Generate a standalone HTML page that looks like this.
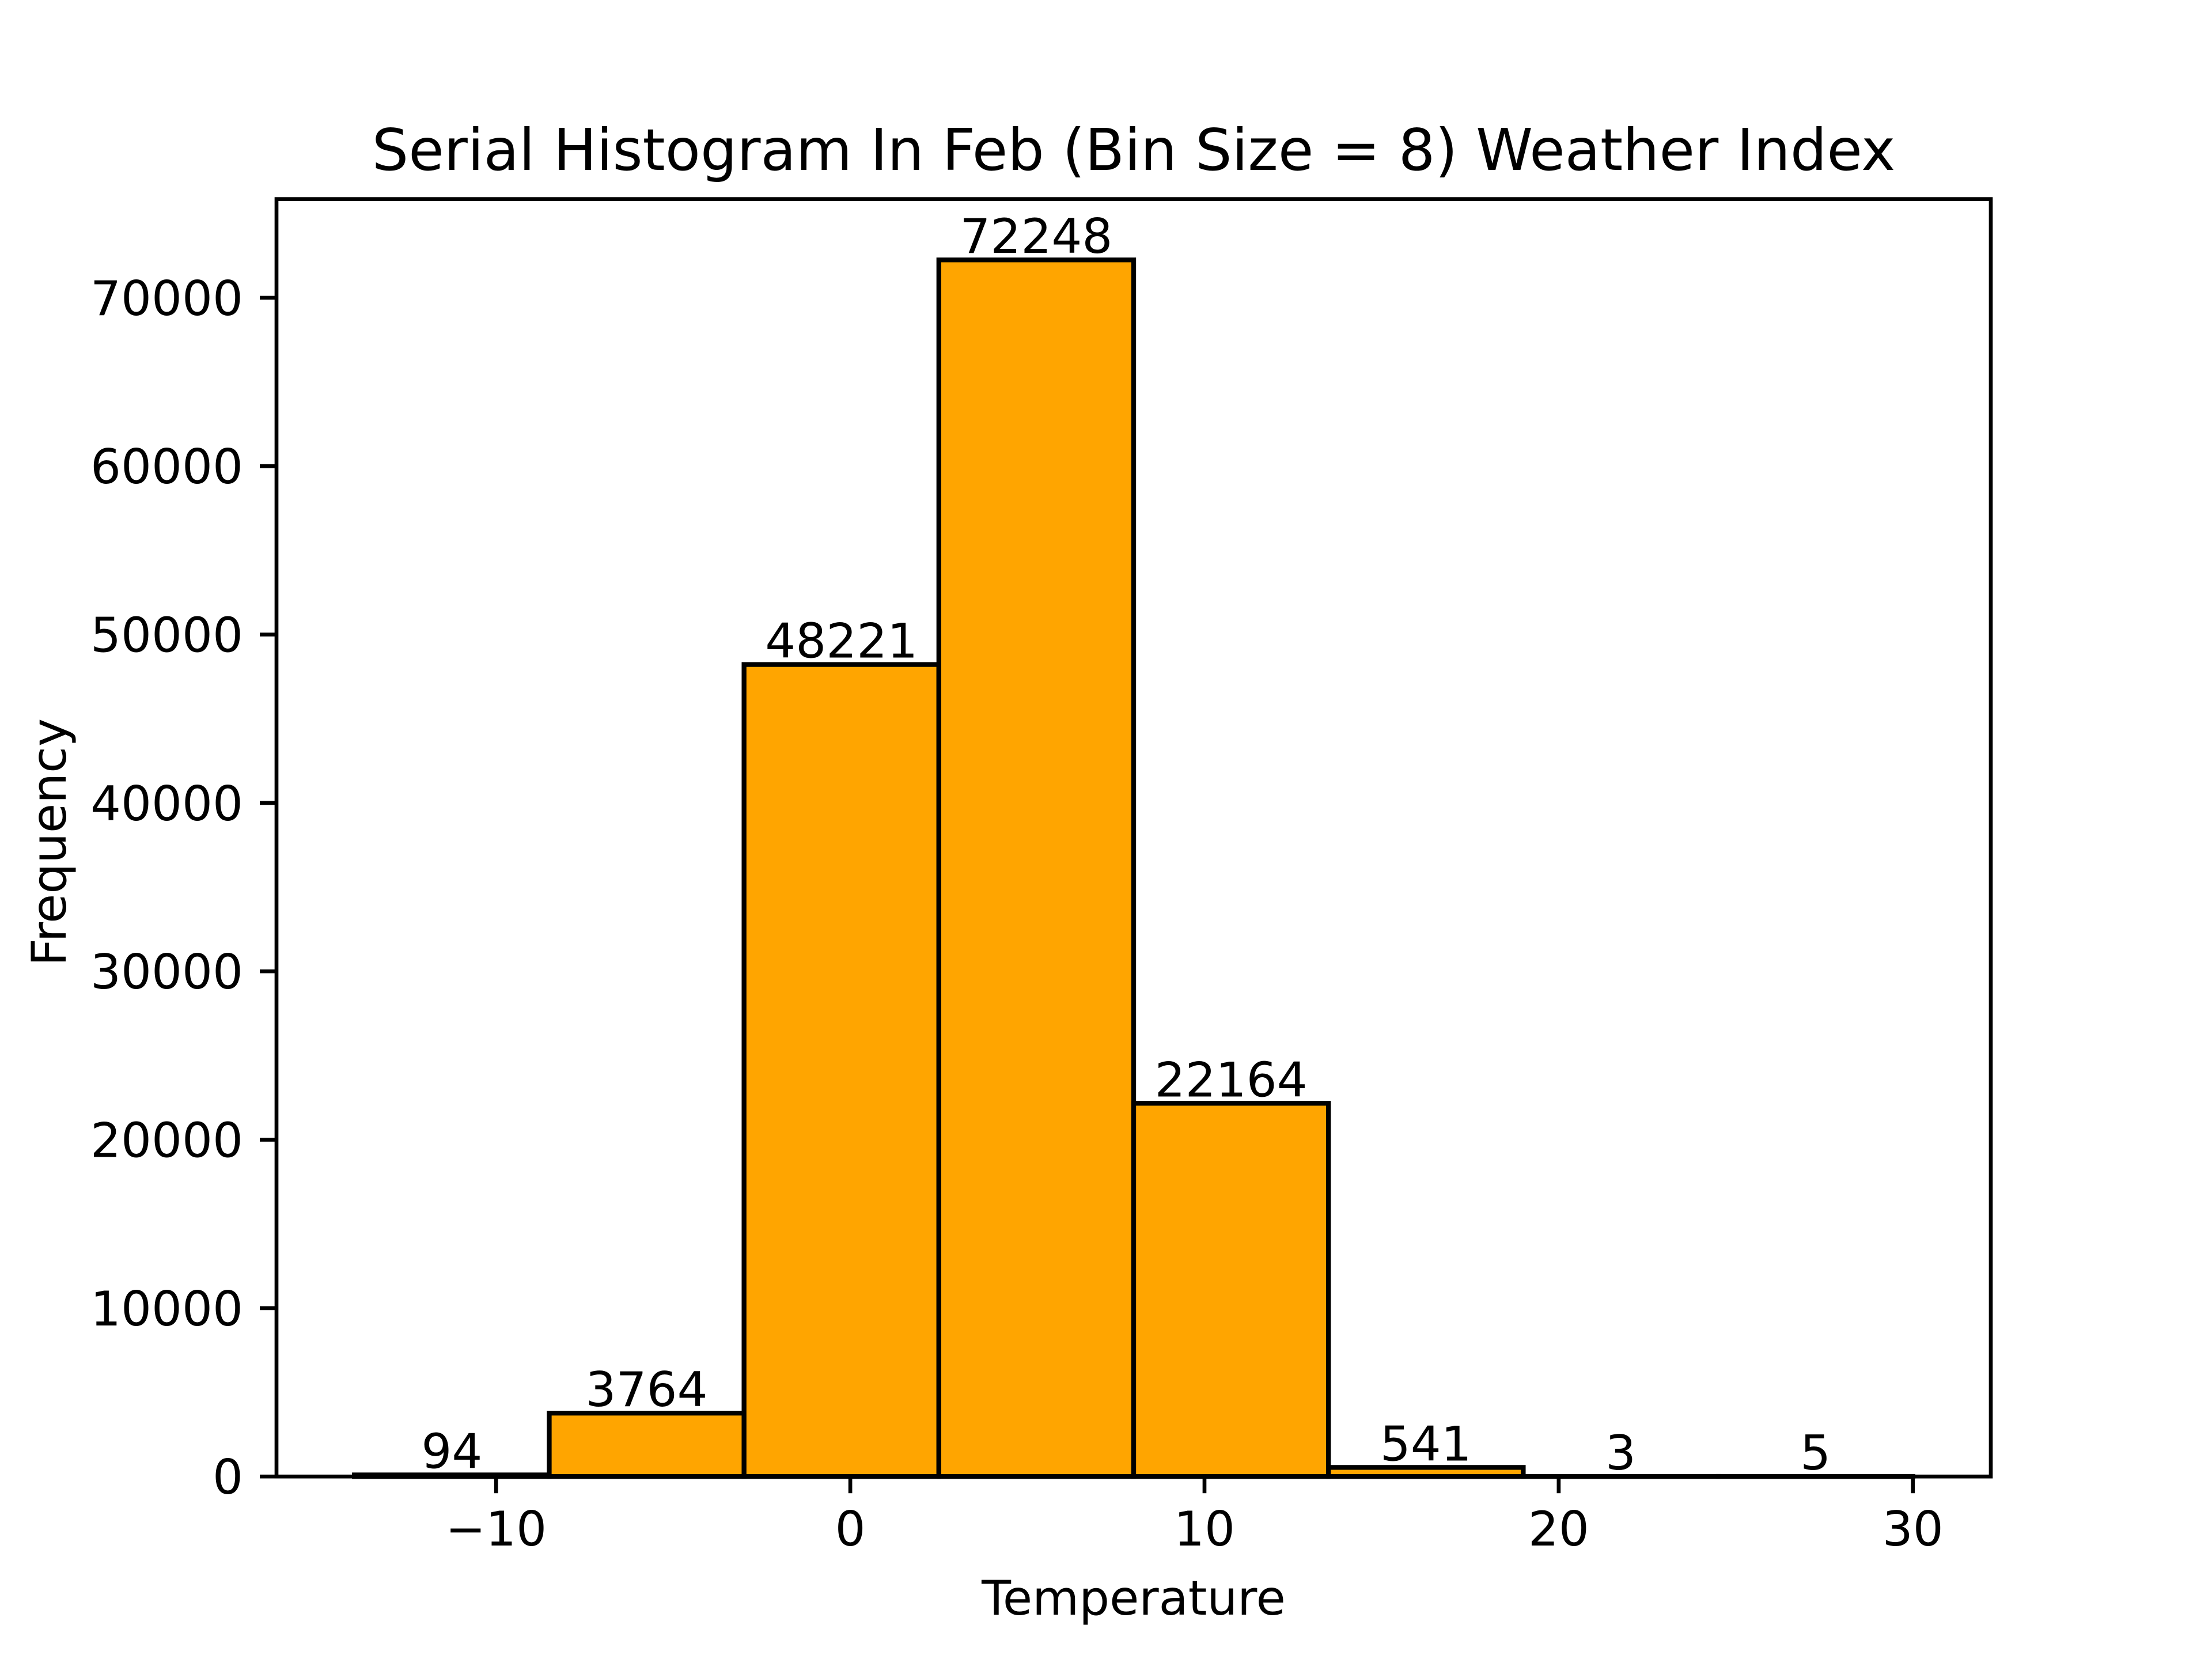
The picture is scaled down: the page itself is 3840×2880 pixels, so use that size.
<!DOCTYPE html>
<html><head><meta charset="utf-8"><style>
html,body{margin:0;padding:0;background:#fff;}
svg{display:block;font-family:"DejaVu Sans","Liberation Sans",sans-serif;}
</style></head><body>
<svg id="chart" width="3840" height="2880" viewBox="0 0 3840 2880" xmlns="http://www.w3.org/2000/svg">
<rect width="3840" height="2880" fill="#fff"/>
<text x="1968" y="295" font-size="100" text-anchor="middle">Serial Histogram In Feb (Bin Size = 8) Weather Index</text>
<text x="1968" y="2803" font-size="83.3" text-anchor="middle">Temperature</text>
<text transform="translate(114,1462) rotate(-90)" font-size="83.3" text-anchor="middle">Frequency</text>
<g id="bars"></g><g id="xt"></g><g id="yt"></g>
<rect x="480" y="345.6" width="2976" height="2217.6" fill="none" stroke="#000" stroke-width="6.67"/>
</svg>
<script>
const binEdges = [-14, -8.5, -3, 2.5, 8, 13.5, 19, 24.5, 30];
const counts = [94, 3764, 48221, 72248, 22164, 541, 3, 5];
const xTicks = [-10, 0, 10, 20, 30];
const yTicks = [0, 10000, 20000, 30000, 40000, 50000, 60000, 70000];
const NS = "http://www.w3.org/2000/svg";
const L = 480, R = 3456, T = 345.6, B = 2563.2;
const xmin = -14 - 0.05 * 44, xmax = 30 + 0.05 * 44;
const ymax = Math.max(...counts) * 1.05;
const sx = v => L + (v - xmin) / (xmax - xmin) * (R - L);
const sy = v => B - v / ymax * (B - T);
function mk(tag, attrs, parent) {
  const e = document.createElementNS(NS, tag);
  for (const k in attrs) e.setAttribute(k, attrs[k]);
  parent.appendChild(e);
  return e;
}
const gb = document.getElementById('bars');
counts.forEach((c, i) => {
  const x0 = sx(binEdges[i]), x1 = sx(binEdges[i + 1]);
  const r = mk('rect', {x: x0, y: sy(c), width: x1 - x0, height: B - sy(c), fill: '#FFA500', stroke: '#000', 'stroke-width': 8.33}, gb);
  
  
  const t = mk('text', {x: (x0 + x1) / 2, y: sy(c) - 12, 'font-size': 83.3, 'text-anchor': 'middle'}, gb);
  t.textContent = String(c);
  
  
});
const gx = document.getElementById('xt');
xTicks.forEach(v => {
  const x = sx(v);
  const l = mk('line', {x1: x, x2: x, y1: B, y2: B + 29, stroke: '#000', 'stroke-width': 6.67}, gx);
  
  
  const t = mk('text', {x: x, y: B + 29 + 29 + 62, 'font-size': 83.3, 'text-anchor': 'middle'}, gx);
  t.textContent = v < 0 ? '\u2212' + Math.abs(v) : String(v);
  
  
});
const gy = document.getElementById('yt');
yTicks.forEach(v => {
  const y = sy(v);
  const l = mk('line', {x1: L - 29, x2: L, y1: y, y2: y, stroke: '#000', 'stroke-width': 6.67}, gy);
  
  
  const t = mk('text', {x: L - 29 - 29, y: y + 30, 'font-size': 83.3, 'text-anchor': 'end'}, gy);
  t.textContent = String(v);
  
  
});
</script>
</body></html>
